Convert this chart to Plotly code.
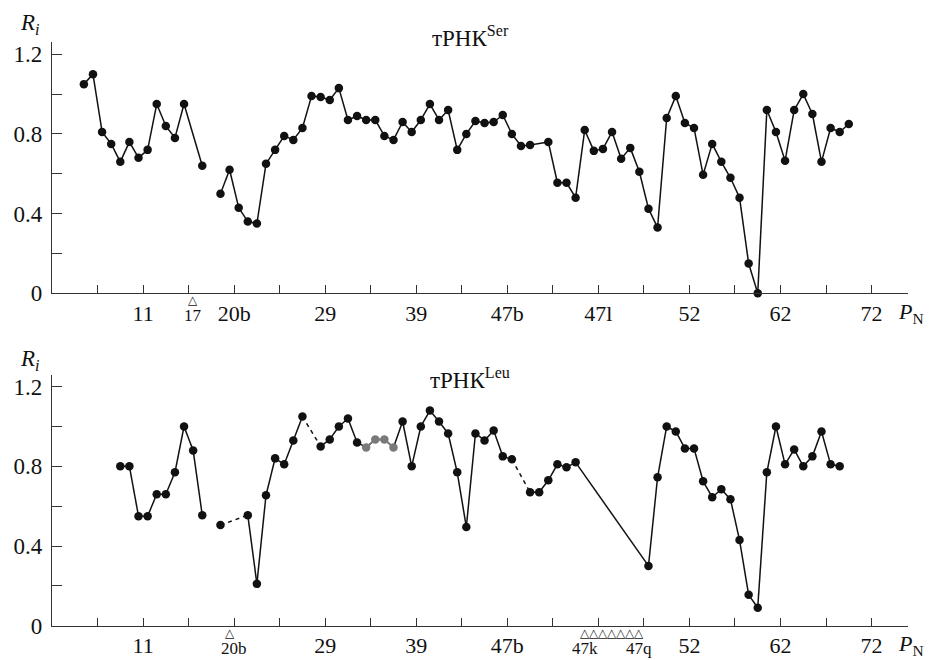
import plotly.graph_objects as go

# ---------------- data ----------------
# slot index along the aligned tRNA sequence (one slot per nucleotide position)
ser_slots = [3, 4, 5, 6, 7, 8, 9, 10, 11, 12, 13, 14, 16,
             18, 19, 20, 21, 22, 23, 24, 25, 26, 27, 28, 29, 30, 31, 32, 33, 34, 35,
             36, 37, 38, 39, 40, 41, 42, 43, 44, 45, 46, 47, 48, 49, 50, 51, 52,
             54, 55, 56, 57, 58, 59, 60, 61, 62, 63, 64, 65, 66, 67, 68, 69, 70,
             71, 72, 73, 74, 75, 76, 77, 78, 79, 80, 81, 82, 83, 84, 85, 86, 87]
ser_values = [1.05, 1.10, 0.81, 0.75, 0.66, 0.76, 0.68, 0.72, 0.95, 0.84, 0.78, 0.95, 0.64,
              0.50, 0.62, 0.43, 0.36, 0.35, 0.65, 0.72, 0.79, 0.77, 0.83, 0.99, 0.985, 0.97, 1.03, 0.87, 0.89, 0.87, 0.87,
              0.79, 0.77, 0.86, 0.81, 0.87, 0.95, 0.87, 0.92, 0.72, 0.80, 0.865, 0.855, 0.86, 0.895, 0.80, 0.74, 0.745,
              0.76, 0.555, 0.555, 0.48, 0.82, 0.715, 0.725, 0.81, 0.675, 0.73, 0.61, 0.425, 0.33, 0.88, 0.99, 0.855, 0.83,
              0.595, 0.75, 0.66, 0.58, 0.48, 0.15, 0.0, 0.92, 0.81, 0.665, 0.92, 1.00, 0.90, 0.66, 0.83, 0.81, 0.85]
ser_breaks = [18]          # no line drawn into these slots
ser_dashed = []            # dashed line drawn into these slots
ser_missing = [15]         # positions absent (open triangles)
ser_missing_labels = {15: "17"}

leu_slots = [7, 8, 9, 10, 11, 12, 13, 14, 15, 16,
             18, 21, 22, 23, 24, 25, 26, 27,
             29, 30, 31, 32, 33, 34, 35, 36, 37, 38, 39, 40, 41, 42, 43, 44, 45, 46, 47, 48, 49, 50,
             52, 53, 54, 55, 56, 57,
             65, 66, 67, 68, 69, 70, 71, 72, 73, 74, 75, 76, 77, 78, 79, 80, 81, 82, 83, 84, 85, 86]
leu_values = [0.80, 0.80, 0.55, 0.55, 0.66, 0.66, 0.77, 1.00, 0.88, 0.555,
              0.505, 0.555, 0.21, 0.655, 0.84, 0.81, 0.93, 1.05,
              0.90, 0.935, 1.00, 1.04, 0.92, 0.895, 0.935, 0.935, 0.895, 1.025, 0.80, 1.00, 1.08, 1.025, 0.965, 0.77,
              0.495, 0.965, 0.93, 0.98, 0.85, 0.835,
              0.67, 0.67, 0.73, 0.81, 0.795, 0.82,
              0.30, 0.745, 1.00, 0.975, 0.89, 0.89, 0.725, 0.645, 0.685, 0.635, 0.43, 0.155, 0.09, 0.77, 1.00,
              0.81, 0.885, 0.80, 0.85, 0.975, 0.81, 0.80]
leu_breaks = [18]
leu_dashed = [21, 29, 52]
leu_gray = [34, 35, 36, 37]
leu_missing = [19, 58, 59, 60, 61, 62, 63, 64]
leu_missing_labels = {58: "47k", 64: "47q"}

ser_tick_vals = [9.5, 19.5, 29.5, 39.5, 49.5, 59.5, 69.5, 79.5, 89.5]
ser_tick_text = ["11", "20b", "29", "39", "47b", "47l", "52", "62", "72"]
leu_tick_vals = [9.5, 29.5, 39.5, 49.5, 69.5, 79.5, 89.5]
leu_tick_text = ["11", "29", "39", "47b", "52", "62", "72"]
leu_small_tick = {19.5: "20b"}

y_tick_vals = [0, 0.4, 0.8, 1.2]
y_tick_text = ["0", "0.4", "0.8", "1.2"]

titles = ["тРНК<sup>Ser</sup>", "тРНК<sup>Leu</sup>"]

# ---------------- figure ----------------
SERIF = "Liberation Serif"
INK = "#111111"
W, H = 930, 660   # reference frame used for relative placement

fig = go.Figure()


def build_lines(slots, vals, breaks, dashed):
    sx, sy, dx, dy = [], [], [], []
    for i in range(1, len(slots)):
        s = slots[i]
        if s in breaks:
            continue
        xs = [slots[i - 1], s, None]
        ys = [vals[i - 1], vals[i], None]
        if s in dashed:
            dx += xs
            dy += ys
        else:
            sx += xs
            sy += ys
    return sx, sy, dx, dy


panels = [
    dict(slots=ser_slots, vals=ser_values, breaks=ser_breaks, dashed=ser_dashed,
         gray=[], xa="x", ya="y"),
    dict(slots=leu_slots, vals=leu_values, breaks=leu_breaks, dashed=leu_dashed,
         gray=leu_gray, xa="x2", ya="y2"),
]

for p in panels:
    sx, sy, dx, dy = build_lines(p["slots"], p["vals"], p["breaks"], p["dashed"])
    fig.add_trace(go.Scatter(x=sx, y=sy, mode="lines", xaxis=p["xa"], yaxis=p["ya"],
                             line=dict(color=INK, width=1.5), hoverinfo="skip",
                             showlegend=False, cliponaxis=False))
    if dx:
        fig.add_trace(go.Scatter(x=dx, y=dy, mode="lines", xaxis=p["xa"], yaxis=p["ya"],
                                 line=dict(color=INK, width=1.5, dash="4px,4px"),
                                 hoverinfo="skip", showlegend=False, cliponaxis=False))
    bx = [s for s in p["slots"] if s not in p["gray"]]
    by = [v for s, v in zip(p["slots"], p["vals"]) if s not in p["gray"]]
    fig.add_trace(go.Scatter(x=bx, y=by, mode="markers", xaxis=p["xa"], yaxis=p["ya"],
                             marker=dict(color=INK, size=8.5), showlegend=False,
                             hoverinfo="skip", cliponaxis=False))
    if p["gray"]:
        gx = [s for s in p["slots"] if s in p["gray"]]
        gy = [v for s, v in zip(p["slots"], p["vals"]) if s in p["gray"]]
        fig.add_trace(go.Scatter(x=gx, y=gy, mode="lines+markers", xaxis=p["xa"], yaxis=p["ya"],
                                 line=dict(color="#7a7a7a", width=1.5),
                                 marker=dict(color="#7a7a7a", size=8.5), showlegend=False,
                                 hoverinfo="skip", cliponaxis=False))

X_DOM = [52 / W, 908 / W]
TOP_DOM = [1 - 293.3 / H, 1 - 42.3 / H]
BOT_DOM = [1 - 625.7 / H, 1 - 374.7 / H]

AXC = "#333333"
xcommon = dict(range=[-0.5, 93.5], showgrid=False, zeroline=False, showline=True,
               linecolor=AXC, linewidth=1.2, ticks="inside", ticklen=8,
               tickwidth=1.2, tickcolor=AXC,
               minor=dict(tick0=4.5, dtick=5, ticks="inside", ticklen=8,
                          tickwidth=1.2, tickcolor=AXC, showgrid=False),
               tickfont=dict(family=SERIF, size=22, color=INK), ticklabelstandoff=0)
ycommon = dict(range=[0, 1.26], showgrid=False, zeroline=False, showline=True,
               linecolor=AXC, linewidth=1.2, ticks="inside", ticklen=10,
               tickwidth=1.2, tickcolor=AXC, tickvals=y_tick_vals,
               ticktext=y_tick_text, tickfont=dict(family=SERIF, size=23, color=INK),
               minor=dict(tick0=0, dtick=0.2, ticks="inside", ticklen=10,
                          tickwidth=1.2, tickcolor=AXC, showgrid=False),
               ticklabelstandoff=4)

fig.update_layout(
    autosize=True, margin=dict(l=0, r=0, t=0, b=0, autoexpand=False),
    paper_bgcolor="white", plot_bgcolor="white", hovermode=False,
    xaxis=dict(domain=X_DOM, anchor="y", tickvals=ser_tick_vals, ticktext=ser_tick_text, **xcommon),
    yaxis=dict(domain=TOP_DOM, anchor="x", **ycommon),
    xaxis2=dict(domain=X_DOM, anchor="y2", tickvals=leu_tick_vals, ticktext=leu_tick_text, **xcommon),
    yaxis2=dict(domain=BOT_DOM, anchor="x2", **ycommon),
)

ann = []
# panel titles
for t, yc in zip(titles, [1 - 36 / H, 1 - 378 / H]):
    ann.append(dict(text=t, xref="paper", yref="paper", x=470 / W, y=yc,
                    showarrow=False, xanchor="center", yanchor="middle",
                    font=dict(family=SERIF, size=23, color=INK)))
# R_i axis labels
for yc in [1 - 24 / H, 1 - 360 / H]:
    ann.append(dict(text="<i>R</i><sub><i>i</i></sub>", xref="paper", yref="paper",
                    x=30 / W, y=yc, showarrow=False, xanchor="center", yanchor="middle",
                    font=dict(family=SERIF, size=23, color=INK)))
# P_N labels
for yc in [1 - 313 / H, 1 - 645 / H]:
    ann.append(dict(text="<i>P</i><sub>N</sub>", xref="paper", yref="paper",
                    x=896 / W, y=yc, showarrow=False, xanchor="left", yanchor="middle",
                    font=dict(family=SERIF, size=22, color=INK)))

# missing-position triangles and small labels
for missing, labels, xr, yr, ylab in [
        (ser_missing, ser_missing_labels, "x", "y", 1 - 315 / H),
        (leu_missing, leu_missing_labels, "x2", "y2", 1 - 648 / H)]:
    for s in missing:
        ann.append(dict(text="△", xref=xr, yref=yr, x=s, y=0, showarrow=False,
                        xanchor="center", yanchor="top", yshift=2,
                        font=dict(family="DejaVu Sans", size=12, color=INK)))
    for s, lab in labels.items():
        ann.append(dict(text=lab, xref=xr, yref="paper", x=s, y=ylab, showarrow=False,
                        xanchor="center", yanchor="middle",
                        font=dict(family=SERIF, size=17, color=INK)))
for xv, lab in leu_small_tick.items():
    ann.append(dict(text=lab, xref="x2", yref="paper", x=xv, y=1 - 648 / H, showarrow=False,
                    xanchor="center", yanchor="middle",
                    font=dict(family=SERIF, size=17, color=INK)))

fig.update_layout(annotations=ann)
fig.write_html("out.html", default_width="100vw", default_height="100vh",
               config={"displayModeBar": False, "responsive": True},
               post_script="document.body.style.margin='0';document.body.style.overflow='hidden';")
